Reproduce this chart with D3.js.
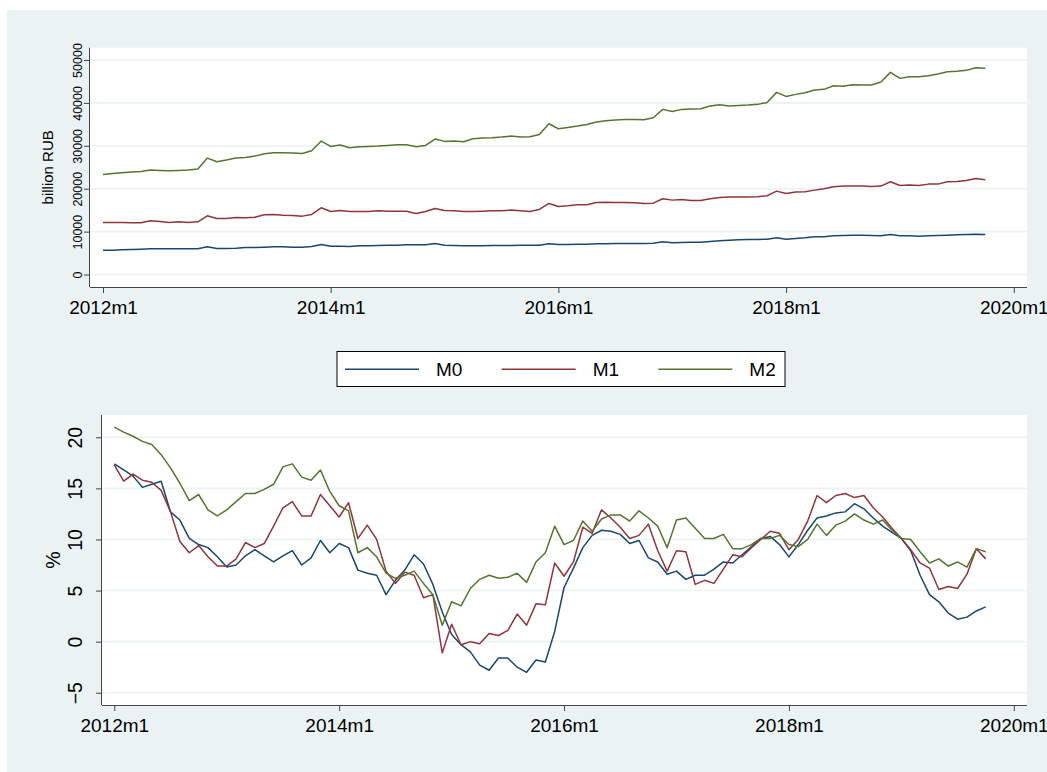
<!DOCTYPE html>
<html>
<head>
<meta charset="utf-8">
<script src="https://cdn.jsdelivr.net/npm/d3@7"></script>
<style>
  body { margin: 0; background: #fff; }
  svg { display: block; font-family: "Liberation Sans", Arial, sans-serif; }
</style>
</head>
<body>
<script>
// months since 2012m1 (0 = 2012m1 ... 93 = 2019m10)
const months = d3.range(94);
const seriesNames = ['M0', 'M1', 'M2'];
const colors = ['#1a476f', '#90353b', '#55752f'];

const xTickValues = [0, 24, 48, 72, 96];
const xTickLabels = ['2012m1', '2014m1', '2016m1', '2018m1', '2020m1'];
const levelTicks = [0, 10000, 20000, 30000, 40000, 50000];
const growthTicks = [-5, 0, 5, 10, 15, 20];

// levels, billion RUB
const m0Level = [
  5680, 5680, 5750, 5830, 5910, 5990, 5990, 5990, 5990, 5990, 5990, 6450,
  6070, 6070, 6140, 6300, 6300, 6380, 6450, 6450, 6380, 6380, 6530, 7000,
  6610, 6610, 6530, 6690, 6690, 6760, 6840, 6840, 6920, 6920, 6920, 7230,
  6840, 6760, 6690, 6690, 6690, 6760, 6760, 6760, 6840, 6840, 6840, 7160,
  6990, 6990, 7070, 7070, 7150, 7150, 7230, 7230, 7230, 7230, 7300, 7620,
  7380, 7470, 7540, 7540, 7700, 7850, 8010, 8090, 8160, 8160, 8240, 8550,
  8240, 8400, 8550, 8790, 8790, 9020, 9100, 9180, 9180, 9100, 9020, 9330,
  9020, 9020, 8940, 9020, 9100, 9180, 9250, 9330, 9410, 9330
];
const m1Level = [
  12130, 12130, 12130, 12050, 12050, 12520, 12360, 12130, 12290, 12130, 12290, 13690,
  13060, 13060, 13300, 13220, 13370, 13920, 14000, 13840, 13760, 13610, 14000, 15550,
  14700, 14930, 14700, 14700, 14700, 14850, 14770, 14770, 14770, 14230, 14700, 15400,
  14930, 14850, 14700, 14700, 14770, 14850, 14850, 15010, 14850, 14700, 15160, 16560,
  15860, 16020, 16250, 16250, 16800, 16870, 16800, 16800, 16720, 16560, 16640, 17650,
  17340, 17500, 17260, 17260, 17650, 17960, 18040, 18040, 18040, 18120, 18350, 19440,
  18900, 19210, 19280, 19670, 19980, 20450, 20610, 20610, 20610, 20530, 20610, 21620,
  20760, 20840, 20760, 21070, 21070, 21620, 21700, 21930, 22390, 22080
];
const m2Level = [
  23330, 23560, 23720, 23870, 24030, 24340, 24260, 24180, 24260, 24340, 24570, 27140,
  26280, 26670, 27140, 27290, 27600, 28150, 28380, 28380, 28300, 28230, 28850, 31100,
  29860, 30170, 29550, 29780, 29860, 29940, 30090, 30250, 30250, 29780, 30090, 31570,
  31030, 31100, 30950, 31650, 31800, 31880, 32040, 32270, 32040, 32110, 32660, 35150,
  33980, 34290, 34600, 34990, 35540, 35850, 36000, 36160, 36160, 36080, 36550, 38490,
  38020, 38490, 38570, 38650, 39270, 39580, 39270, 39420, 39500, 39660, 40120, 42460,
  41520, 41990, 42380, 43000, 43160, 44010, 43860, 44250, 44170, 44170, 44870, 47120,
  45720, 46110, 46110, 46350, 46730, 47280, 47360, 47590, 48210, 48060
];

// year-on-year growth, %
const m0Growth = [
  17.4, 16.8, 16.2, 15.1, 15.4, 15.7, 12.7, 11.9, 10.1, 9.5, 9.2, 8.3,
  7.3, 7.5, 8.4, 9.0, 8.4, 7.8, 8.4, 8.9, 7.5, 8.2, 9.9, 8.7,
  9.6, 9.2, 7.0, 6.7, 6.5, 4.6, 6.0, 7.0, 8.5, 7.6, 5.6, 2.9,
  0.7, -0.3, -1.0, -2.3, -2.8, -1.6, -1.6, -2.5, -3.0, -1.8, -2.0, 1.0,
  5.3, 7.2, 9.2, 10.4, 10.9, 10.8, 10.5, 9.6, 9.9, 8.2, 7.8, 6.6,
  6.9, 6.1, 6.5, 6.5, 7.1, 7.8, 7.7, 8.5, 9.3, 10.1, 10.3, 9.5,
  8.3, 9.5, 10.9, 12.1, 12.3, 12.6, 12.7, 13.5, 13.0, 12.1, 11.3, 10.7,
  10.1, 8.9, 6.5, 4.6, 3.9, 2.8, 2.2, 2.4, 3.0, 3.4
];
const m1Growth = [
  17.3, 15.7, 16.4, 15.8, 15.6, 14.8, 12.7, 9.8, 8.7, 9.4, 8.3, 7.4,
  7.4, 8.1, 9.7, 9.2, 9.6, 11.3, 13.1, 13.7, 12.3, 12.3, 14.4, 13.3,
  12.2, 13.6, 10.1, 11.4, 10.0, 6.9, 5.7, 6.8, 6.5, 4.3, 4.6, -1.1,
  1.7, -0.3, 0.0, -0.2, 0.8, 0.6, 1.1, 2.7, 1.6, 3.7, 3.6, 7.7,
  6.4, 7.8, 11.2, 10.6, 12.9, 12.1, 11.2, 10.1, 10.4, 11.5, 8.9, 6.9,
  8.9, 8.8, 5.6, 6.0, 5.7, 7.1, 8.5, 8.3, 9.2, 10.0, 10.8, 10.6,
  9.0, 10.0, 11.8, 14.3, 13.6, 14.3, 14.5, 14.1, 14.3, 13.1, 12.2, 11.1,
  10.1, 9.0, 7.7, 7.2, 5.1, 5.4, 5.2, 6.6, 9.1, 8.1
];
const m2Growth = [
  21.0, 20.5, 20.1, 19.6, 19.3, 18.3, 17.0, 15.5, 13.8, 14.4, 12.9, 12.3,
  12.9, 13.7, 14.5, 14.5, 14.9, 15.4, 17.1, 17.4, 16.1, 15.8, 16.8, 14.7,
  13.3, 12.8, 8.7, 9.2, 8.3, 6.7, 6.2, 6.5, 6.9, 5.7, 4.6, 1.6,
  3.9, 3.5, 5.2, 6.1, 6.5, 6.2, 6.3, 6.7, 5.8, 7.8, 8.7, 11.3,
  9.5, 9.9, 11.8, 10.8, 12.0, 12.4, 12.4, 11.8, 12.8, 12.1, 11.3, 9.2,
  11.9, 12.1, 11.1, 10.1, 10.1, 10.5, 9.1, 9.1, 9.5, 10.1, 10.1, 10.4,
  9.5, 9.3, 10.0, 11.5, 10.4, 11.4, 11.8, 12.5, 11.9, 11.5, 11.9, 10.9,
  10.1, 10.0, 8.8, 7.7, 8.1, 7.4, 7.8, 7.3, 9.1, 8.8
];

const W = 1047;
const H = 772;
const bg = '#eaf2f3';

const svg = d3
  .select('body')
  .append('svg')
  .attr('width', W)
  .attr('height', H);

svg.append('rect').attr('width', W).attr('height', H).attr('fill', '#fff');
svg
  .append('rect')
  .attr('x', 7)
  .attr('y', 10)
  .attr('width', W - 7)
  .attr('height', H - 10)
  .attr('fill', bg);

const fmtMonth = d => xTickLabels[xTickValues.indexOf(d)];

function panel(opts) {
  const { left, right, top, bottom, xDomain, yDomain, yTicks, series, yTitle,
    yTickSize, yTitleSize, yTickX, yTitleX } = opts;

  const x = d3.scaleLinear().domain(xDomain).range([left, right]);
  const y = d3.scaleLinear().domain(yDomain).range([bottom, top]);

  const g = svg.append('g');

  g.append('rect')
    .attr('x', left)
    .attr('y', top)
    .attr('width', right - left)
    .attr('height', bottom - top)
    .attr('fill', '#fff');

  // grid
  g.selectAll('.grid')
    .data(yTicks)
    .enter()
    .append('line')
    .attr('x1', left)
    .attr('x2', right)
    .attr('y1', d => y(d))
    .attr('y2', d => y(d))
    .attr('stroke', bg)
    .attr('stroke-width', 1.6);

  // lines
  const line = d3.line().x((d, i) => x(months[i])).y(d => y(d));
  g.selectAll('.series')
    .data(series)
    .enter()
    .append('path')
    .attr('d', d => line(d))
    .attr('fill', 'none')
    .attr('stroke', (d, i) => colors[i])
    .attr('stroke-width', 1.5)
    .attr('stroke-linejoin', 'round');

  // x axis
  const xAxis = g.append('g')
    .attr('transform', `translate(0,${bottom})`)
    .call(d3.axisBottom(x).tickValues(xTickValues).tickFormat(fmtMonth).tickSize(6).tickSizeOuter(0));
  xAxis.select('.domain').attr('d', `M${left},0.5H${right}`).attr('stroke', '#444');
  xAxis.selectAll('line').attr('stroke', '#444');
  xAxis.selectAll('text')
    .attr('font-size', 19)
    .attr('font-family', '"Liberation Sans", Arial, sans-serif')
    .attr('fill', '#000')
    .attr('dy', '0.95em');

  // y axis, tick labels turned upright like Stata
  const yAxis = g.append('g')
    .attr('transform', `translate(${left},0)`)
    .call(d3.axisLeft(y).tickValues(yTicks).tickFormat(d3.format('d')).tickSize(6).tickSizeOuter(0));
  yAxis.select('.domain').attr('d', `M-0.5,${top}V${bottom}`).attr('stroke', '#444');
  yAxis.selectAll('line').attr('stroke', '#444');
  yAxis.selectAll('text')
    .attr('font-size', yTickSize)
    .attr('font-family', '"Liberation Sans", Arial, sans-serif')
    .attr('fill', '#000')
    .attr('x', 0)
    .attr('y', 0)
    .attr('dy', null)
    .attr('text-anchor', 'middle')
    .attr('transform', `translate(${yTickX - left},0) rotate(-90)`);

  g.append('text')
    .attr('transform', `translate(${yTitleX},${(top + bottom) / 2}) rotate(-90)`)
    .attr('text-anchor', 'middle')
    .attr('font-size', yTitleSize)
    .text(yTitle);

  return g;
}

panel({
  left: 90, right: 1027, top: 47.7, bottom: 287,
  xDomain: [(90 - 103) / 9.487, (1027 - 103) / 9.487],
  yDomain: [-2910, 52870],
  yTicks: levelTicks,
  series: [m0Level, m1Level, m2Level],
  yTitle: 'billion RUB',
  yTickSize: 12.5, yTitleSize: 15, yTickX: 82, yTitleX: 53
});

panel({
  left: 102, right: 1027, top: 415, bottom: 705,
  xDomain: [(102 - 114.3) / 9.37, (1027 - 114.3) / 9.37],
  yDomain: [-6.2, 22.18],
  yTicks: growthTicks,
  series: [m0Growth, m1Growth, m2Growth],
  yTitle: '%',
  yTickSize: 19.5, yTitleSize: 19.5, yTickX: 82, yTitleX: 60
});

// legend
const legend = svg.append('g');
legend.append('rect')
  .attr('x', 337)
  .attr('y', 351.5)
  .attr('width', 448)
  .attr('height', 35)
  .attr('fill', '#fff')
  .attr('stroke', '#000')
  .attr('stroke-width', 1);

const legendX = d3.scalePoint().domain(seriesNames).range([345, 658.3]);
const items = legend.selectAll('.item')
  .data(seriesNames)
  .enter()
  .append('g')
  .attr('transform', d => `translate(${legendX(d)},369.3)`);
items.append('line')
  .attr('x1', 0)
  .attr('x2', 74)
  .attr('stroke', (d, i) => colors[i])
  .attr('stroke-width', 1.5);
items.append('text')
  .attr('x', 91)
  .attr('y', 7)
  .attr('font-size', 19)
  .text(d => d);
</script>
</body>
</html>
